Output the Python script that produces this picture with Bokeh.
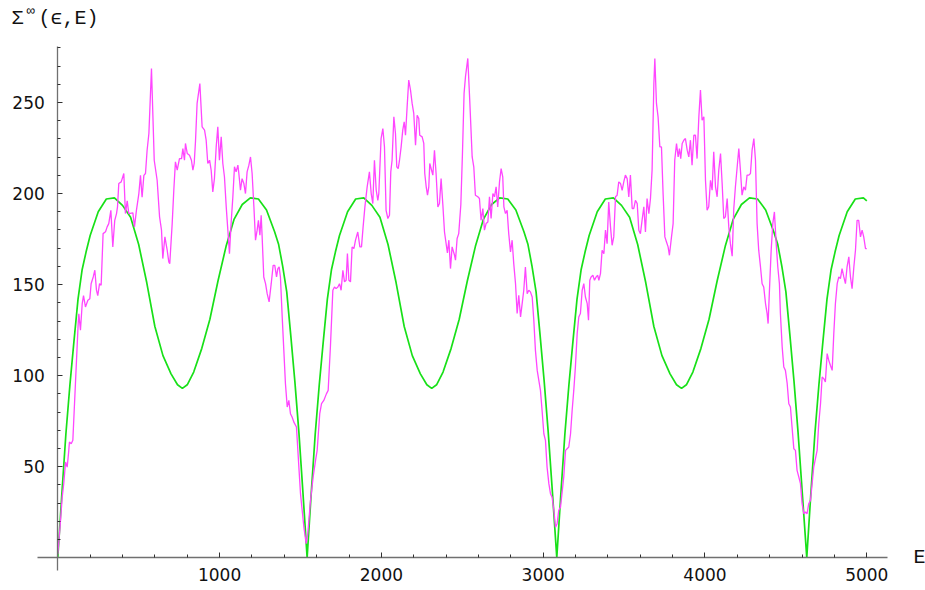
from bokeh.plotting import figure
from bokeh.models import Range1d, FixedTicker, Label
from bokeh.embed import file_html
from bokeh.resources import INLINE

# ---------------- data ----------------
magenta_E = [0, 14, 27, 37, 48, 58, 67, 72, 83, 93, 109, 126, 130, 140, 151, 159, 171, 186, 198, 206,
             219, 229, 239, 247, 258, 268, 280, 295, 305, 315, 328, 340, 352, 363, 369, 377, 392, 408, 418, 429,
             439, 464, 474, 486, 501, 511, 521, 532, 542, 552, 563, 579, 596, 614, 629, 641, 649, 662, 676, 686,
             692, 707, 717, 727, 738, 752, 765, 773, 783, 789, 800, 814, 826, 835, 843, 851, 861, 878, 892, 907,
             917, 927, 938, 948, 958, 968, 979, 989, 999, 1010, 1020, 1030, 1041, 1051, 1061, 1071, 1082, 1092, 1102, 1113,
             1119, 1129, 1139, 1150, 1160, 1170, 1181, 1191, 1201, 1212, 1222, 1232, 1240, 1249, 1257, 1263, 1273, 1284, 1294, 1306,
             1319, 1331, 1341, 1352, 1360, 1368, 1376, 1387, 1397, 1407, 1418, 1428, 1438, 1448, 1459, 1475, 1490, 1500, 1521, 1535,
             1545, 1562, 1578, 1593, 1603, 1619, 1630, 1644, 1660, 1671, 1685, 1700, 1710, 1720, 1731, 1741, 1751, 1762, 1772, 1782,
             1790, 1799, 1809, 1819, 1830, 1840, 1854, 1867, 1877, 1887, 1898, 1912, 1926, 1937, 1947, 1957, 1968, 1978, 1984, 1998,
             2009, 2019, 2029, 2040, 2050, 2058, 2066, 2077, 2087, 2095, 2104, 2112, 2122, 2132, 2141, 2149, 2159, 2169, 2180, 2190,
             2200, 2211, 2221, 2231, 2237, 2252, 2262, 2268, 2277, 2285, 2293, 2299, 2310, 2318, 2328, 2338, 2349, 2359, 2369, 2380,
             2390, 2400, 2408, 2417, 2427, 2437, 2452, 2458, 2468, 2478, 2491, 2501, 2511, 2520, 2534, 2546, 2561, 2571, 2581, 2596,
             2606, 2616, 2627, 2637, 2647, 2658, 2668, 2678, 2689, 2699, 2709, 2719, 2730, 2740, 2750, 2757, 2767, 2777, 2787, 2798,
             2808, 2818, 2829, 2839, 2849, 2860, 2870, 2880, 2890, 2901, 2911, 2921, 2932, 2942, 2952, 2963, 2973, 2983, 2993, 3004,
             3014, 3024, 3035, 3045, 3055, 3066, 3076, 3086, 3096, 3107, 3127, 3138, 3148, 3158, 3169, 3179, 3189, 3199, 3210, 3220,
             3230, 3241, 3251, 3261, 3272, 3280, 3288, 3296, 3307, 3317, 3327, 3337, 3344, 3354, 3364, 3375, 3385, 3395, 3405, 3416,
             3426, 3436, 3447, 3457, 3467, 3478, 3488, 3498, 3508, 3519, 3529, 3539, 3550, 3560, 3570, 3581, 3591, 3601, 3611, 3622,
             3632, 3642, 3653, 3663, 3673, 3684, 3690, 3700, 3710, 3721, 3731, 3741, 3752, 3762, 3772, 3780, 3793, 3803, 3813, 3824,
             3834, 3842, 3850, 3859, 3869, 3879, 3890, 3900, 3910, 3920, 3931, 3941, 3951, 3962, 3972, 3982, 3993, 4003, 4013, 4023,
             4034, 4044, 4054, 4065, 4075, 4085, 4096, 4106, 4116, 4126, 4137, 4147, 4157, 4168, 4178, 4188, 4199, 4209, 4219, 4229,
             4240, 4250, 4260, 4271, 4281, 4291, 4302, 4312, 4322, 4332, 4343, 4353, 4363, 4374, 4384, 4390, 4400, 4409, 4419, 4429,
             4440, 4450, 4460, 4466, 4477, 4487, 4497, 4508, 4518, 4528, 4538, 4549, 4559, 4569, 4580, 4590, 4600, 4611, 4621, 4631,
             4641, 4652, 4662, 4672, 4693, 4703, 4714, 4724, 4734, 4744, 4755, 4765, 4775, 4786, 4796, 4806, 4817, 4827, 4837, 4847,
             4858, 4868, 4878, 4889, 4899, 4909, 4920, 4930, 4940, 4950, 4961, 4971, 4981, 4992, 5000]
magenta_S = [2, 17, 33, 41, 52.6, 49.8, 58, 63.6, 62.6, 64.5, 95.6, 128.6, 134, 125, 139.6, 144, 137.7, 141.4, 142.3, 150.5,
             154.2, 157.9, 147, 144, 150.5, 149.6, 178, 179, 181.7, 183.5, 190.8, 170.7, 185.3, 189, 192.7, 205.5, 206.4, 211, 189, 196,
             189, 189.4, 181.7, 190.8, 200, 210, 198, 210, 211, 223.8, 233, 268.7, 218.3, 207.3, 187.2, 179.9, 164.3, 176.2, 168.9, 162.5,
             161.5, 183.5, 201.8, 217.4, 212.8, 219.2, 219.2, 224.7, 218.3, 227.5, 222, 221, 218.3, 212.8, 216.5, 228.5, 249.5, 260.4, 236.6, 234.8,
             229.3, 216.5, 218.3, 212.8, 200.9, 208.2, 225.6, 236.6, 218.3, 231.1, 216.5, 209.2, 192.7, 179.9, 167, 183.5, 198.2, 214.7, 211.9, 215.6,
             211, 201.8, 208.2, 205.5, 200, 211.9, 215.6, 220.1, 211, 192.7, 174.4, 179.9, 185.3, 177.1, 188.1, 176.2, 154.2, 150.5, 145, 140.5,
             150.5, 160.6, 160.6, 154.2, 158.8, 159.7, 154.2, 132.2, 113.9, 95.6, 82.8, 86.4, 79.1, 77.3, 74.5, 71.8, 49.8, 35.2, 16.8, 7.7,
             13.2, 31.5, 44.3, 53.5, 59, 79.1, 84.6, 86.4, 90, 91.9, 116, 146.9, 148.7, 147.8, 148.7, 150.5, 146.9, 157.9, 151.5, 152.4,
             167, 152.4, 151.5, 170.7, 169.8, 174.4, 178.9, 170.7, 170.7, 181.7, 192.7, 203.7, 211.9, 200, 194.5, 218.3, 201.8, 196.3, 200, 230.2,
             235.7, 225.6, 190.8, 186.3, 188.1, 211.9, 218.3, 242.1, 233, 214.7, 213.7, 218.3, 225.6, 234.8, 239.4, 232, 247.6, 262.3, 256.8, 249.5,
             244, 226.6, 243, 241.2, 232, 231.1, 227.5, 211, 203.7, 199.1, 203.7, 216.5, 212.8, 210.1, 223.8, 211, 192.7, 194.5, 208.2, 193.6,
             178.9, 172.5, 167.4, 174.4, 158.8, 170.7, 166.1, 163.4, 175.3, 178, 194, 222, 255, 264.5, 274.2, 251.3, 220.1, 214.7, 199.1, 198.2,
             197.3, 185.3, 191.8, 179.9, 183.5, 184.4, 198.2, 186.3, 200, 198.2, 203.7, 192.7, 206.4, 213.7, 209.2, 192.7, 189, 190.8, 178, 168,
             174.4, 161.5, 150.5, 134.1, 144.1, 132.2, 139.6, 146.9, 159.7, 145, 146.9, 146, 143.2, 130.4, 113.9, 102.9, 97.4, 91.9, 81, 68.1,
             64.5, 49.8, 40.7, 35.2, 33.3, 26, 16.8, 18.7, 26, 27.8, 44.3, 59, 59.9, 60.8, 68.1, 81, 91.9, 104.8, 123.1, 132.2,
             134.1, 146.9, 150.5, 143.2, 139.6, 130.4, 152.4, 154.2, 155.1, 152.4, 154.2, 155.1, 152.4, 156, 168.9, 167, 179.9, 172.5, 195.4, 181.7,
             171.6, 176.2, 198.2, 199.1, 206.4, 205.5, 201.8, 206.4, 210.1, 208.2, 198.2, 210.1, 191.8, 191.8, 196.3, 194.5, 179.9, 178, 185.3, 192.7,
             178.9, 197.3, 189, 197.3, 212.8, 260.4, 274.2, 249.5, 242.1, 225.6, 225.6, 200, 176.2, 173.4, 170.7, 166.1, 176.2, 183.5, 218.3, 227.5,
             220.1, 224.7, 219.2, 227.5, 229.3, 230.2, 223.8, 220.1, 229.3, 215.6, 232, 232, 219.2, 242.1, 256.8, 240.3, 242.1, 207.3, 190.8, 192.7,
             207.3, 201.8, 222.9, 203.7, 198.2, 212.8, 222, 205.5, 186.3, 187.2, 197.3, 181.7, 172.5, 165.6, 191.8, 203.7, 214.7, 224.7, 212.8, 199.1,
             203.7, 201.8, 210.1, 210.1, 211, 223.8, 230.2, 218.3, 183.5, 168.9, 159.7, 150.5, 148.7, 139.6, 134.1, 128.6, 150.5, 168.9, 183.5, 189.9,
             172.5, 159.7, 150.5, 134.1, 115.8, 104.8, 102.9, 95.6, 84.6, 82.8, 71.8, 59.9, 59, 48, 44.3, 40.7, 29.7, 24.2, 25.1, 24.2,
             29.7, 31.5, 40.7, 49.8, 59, 73.6, 84.6, 99.3, 98.4, 96.5, 112.1, 108.4, 105.7, 102.9, 123.1, 139.6, 150.5, 154.2, 153.3, 158.8,
             154.2, 150.5, 159.7, 165.2, 154.2, 147.8, 159.7, 168.9, 185.3, 185.3, 176.2, 179.9, 176.2, 169.8, 169.8]

green_E = [0, 25, 50, 75, 100, 125, 150, 175, 200, 250, 300, 350, 400, 450, 500, 550, 600, 650, 700, 740,
           770, 800, 840, 890, 940, 990, 1040, 1090, 1140, 1190, 1240, 1290, 1340, 1365, 1390, 1415, 1440, 1465, 1490, 1515,
           1541, 1566, 1591, 1616, 1641, 1666, 1691, 1716, 1741, 1791, 1841, 1891, 1941, 1991, 2041, 2091, 2141, 2191, 2241, 2281,
           2311, 2341, 2381, 2431, 2481, 2531, 2581, 2631, 2681, 2731, 2781, 2831, 2881, 2906, 2931, 2956, 2981, 3006, 3031, 3057,
           3084, 3109, 3134, 3159, 3184, 3209, 3234, 3259, 3284, 3334, 3384, 3434, 3484, 3534, 3584, 3634, 3684, 3734, 3784, 3824,
           3855, 3885, 3925, 3975, 4025, 4075, 4125, 4175, 4225, 4275, 4325, 4375, 4425, 4450, 4475, 4500, 4525, 4550, 4575, 4601,
           4629, 4654, 4679, 4704, 4729, 4754, 4779, 4804, 4829, 4879, 4929, 4979, 5000]
green_S = [0, 35, 68, 95, 119, 142, 158, 168, 177, 190, 197, 197.6, 193.5, 187, 172, 151, 127, 111, 101, 95,
           93, 95, 102, 115, 131, 152, 171, 186, 194, 197.6, 197, 191, 179, 172, 160, 146, 122, 97, 69, 36,
           0, 35, 68, 95, 119, 142, 158, 168, 177, 190, 197, 197.6, 193.5, 187, 172, 151, 127, 111, 101, 95,
           93, 95, 102, 115, 131, 152, 171, 186, 194, 197.6, 197, 191, 179, 172, 160, 146, 122, 97, 69, 36,
           0, 35, 68, 95, 119, 142, 158, 168, 177, 190, 197, 197.6, 193.5, 187, 172, 151, 127, 111, 101, 95,
           93, 95, 102, 115, 131, 152, 171, 186, 194, 197.6, 197, 191, 179, 172, 160, 146, 122, 97, 69, 36,
           0, 35, 68, 95, 119, 142, 158, 168, 177, 190, 197, 197.6, 196]

x_major = [1000, 2000, 3000, 4000, 5000]
x_minor = [200, 400, 600, 800, 1200, 1400, 1600, 1800, 2200, 2400, 2600, 2800, 3200, 3400, 3600, 3800,
           4200, 4400, 4600, 4800]
y_major = [50, 100, 150, 200, 250]
y_minor = [10, 20, 30, 40, 60, 70, 80, 90, 110, 120, 130, 140, 160, 170, 180, 190, 210, 220, 230, 240,
           260, 270, 280]

# ---------------- figure ----------------
# the frame covers the whole canvas; the axes are bounded like Mathematica's
p = figure(width=925, height=590,
           x_range=Range1d(-354.1, 5362.8), y_range=Range1d(-17.96, 306.0),
           output_backend="svg", toolbar_location=None,
           min_border_left=0, min_border_right=0, min_border_top=0, min_border_bottom=0)
p.background_fill_color = "white"
p.border_fill_color = "white"
p.outline_line_color = None
p.xgrid.visible = False
p.ygrid.visible = False

p.line(green_E, green_S, line_color="#18e018", line_width=1.7)
p.line(magenta_E, magenta_S, line_color="#ff46ff", line_width=1.3)

for ax, maj, mnr in ((p.xaxis[0], x_major, x_minor), (p.yaxis[0], y_major, y_minor)):
    ax.fixed_location = 0
    ax.ticker = FixedTicker(ticks=maj, minor_ticks=mnr)
    ax.axis_line_color = "#707070"
    ax.axis_line_width = 1.3
    ax.major_tick_in = 5
    ax.major_tick_out = 0
    ax.minor_tick_in = 3
    ax.minor_tick_out = 0
    ax.major_tick_line_color = "#303030"
    ax.minor_tick_line_color = "#303030"
    ax.major_label_text_font = "DejaVu Sans"
    ax.major_label_text_font_size = "17px"
    ax.major_label_text_color = "#111111"

p.xaxis[0].bounds = (-125.5, 5127.6)
p.yaxis[0].bounds = (-7.0, 281.0)
p.xaxis[0].major_label_standoff = 10
p.yaxis[0].major_label_standoff = 13

mono = "Liberation Mono"
p.add_layout(Label(x=-286, y=296.0, text="Σ", text_font=mono, text_font_size="20px",
                   text_baseline="alphabetic", text_color="#111111"))
p.add_layout(Label(x=-193, y=300.0, text="∞", text_font=mono, text_font_size="14px",
                   text_baseline="alphabetic", text_color="#111111"))
p.add_layout(Label(x=-119, y=296.0, text="(ϵ,E)", text_font=mono, text_font_size="20px",
                   text_baseline="alphabetic", text_color="#111111"))
p.add_layout(Label(x=5288, y=0, text="E", text_font=mono, text_font_size="20px",
                   text_baseline="middle", text_color="#111111"))

open("out.html", "w").write(file_html(p, INLINE))
